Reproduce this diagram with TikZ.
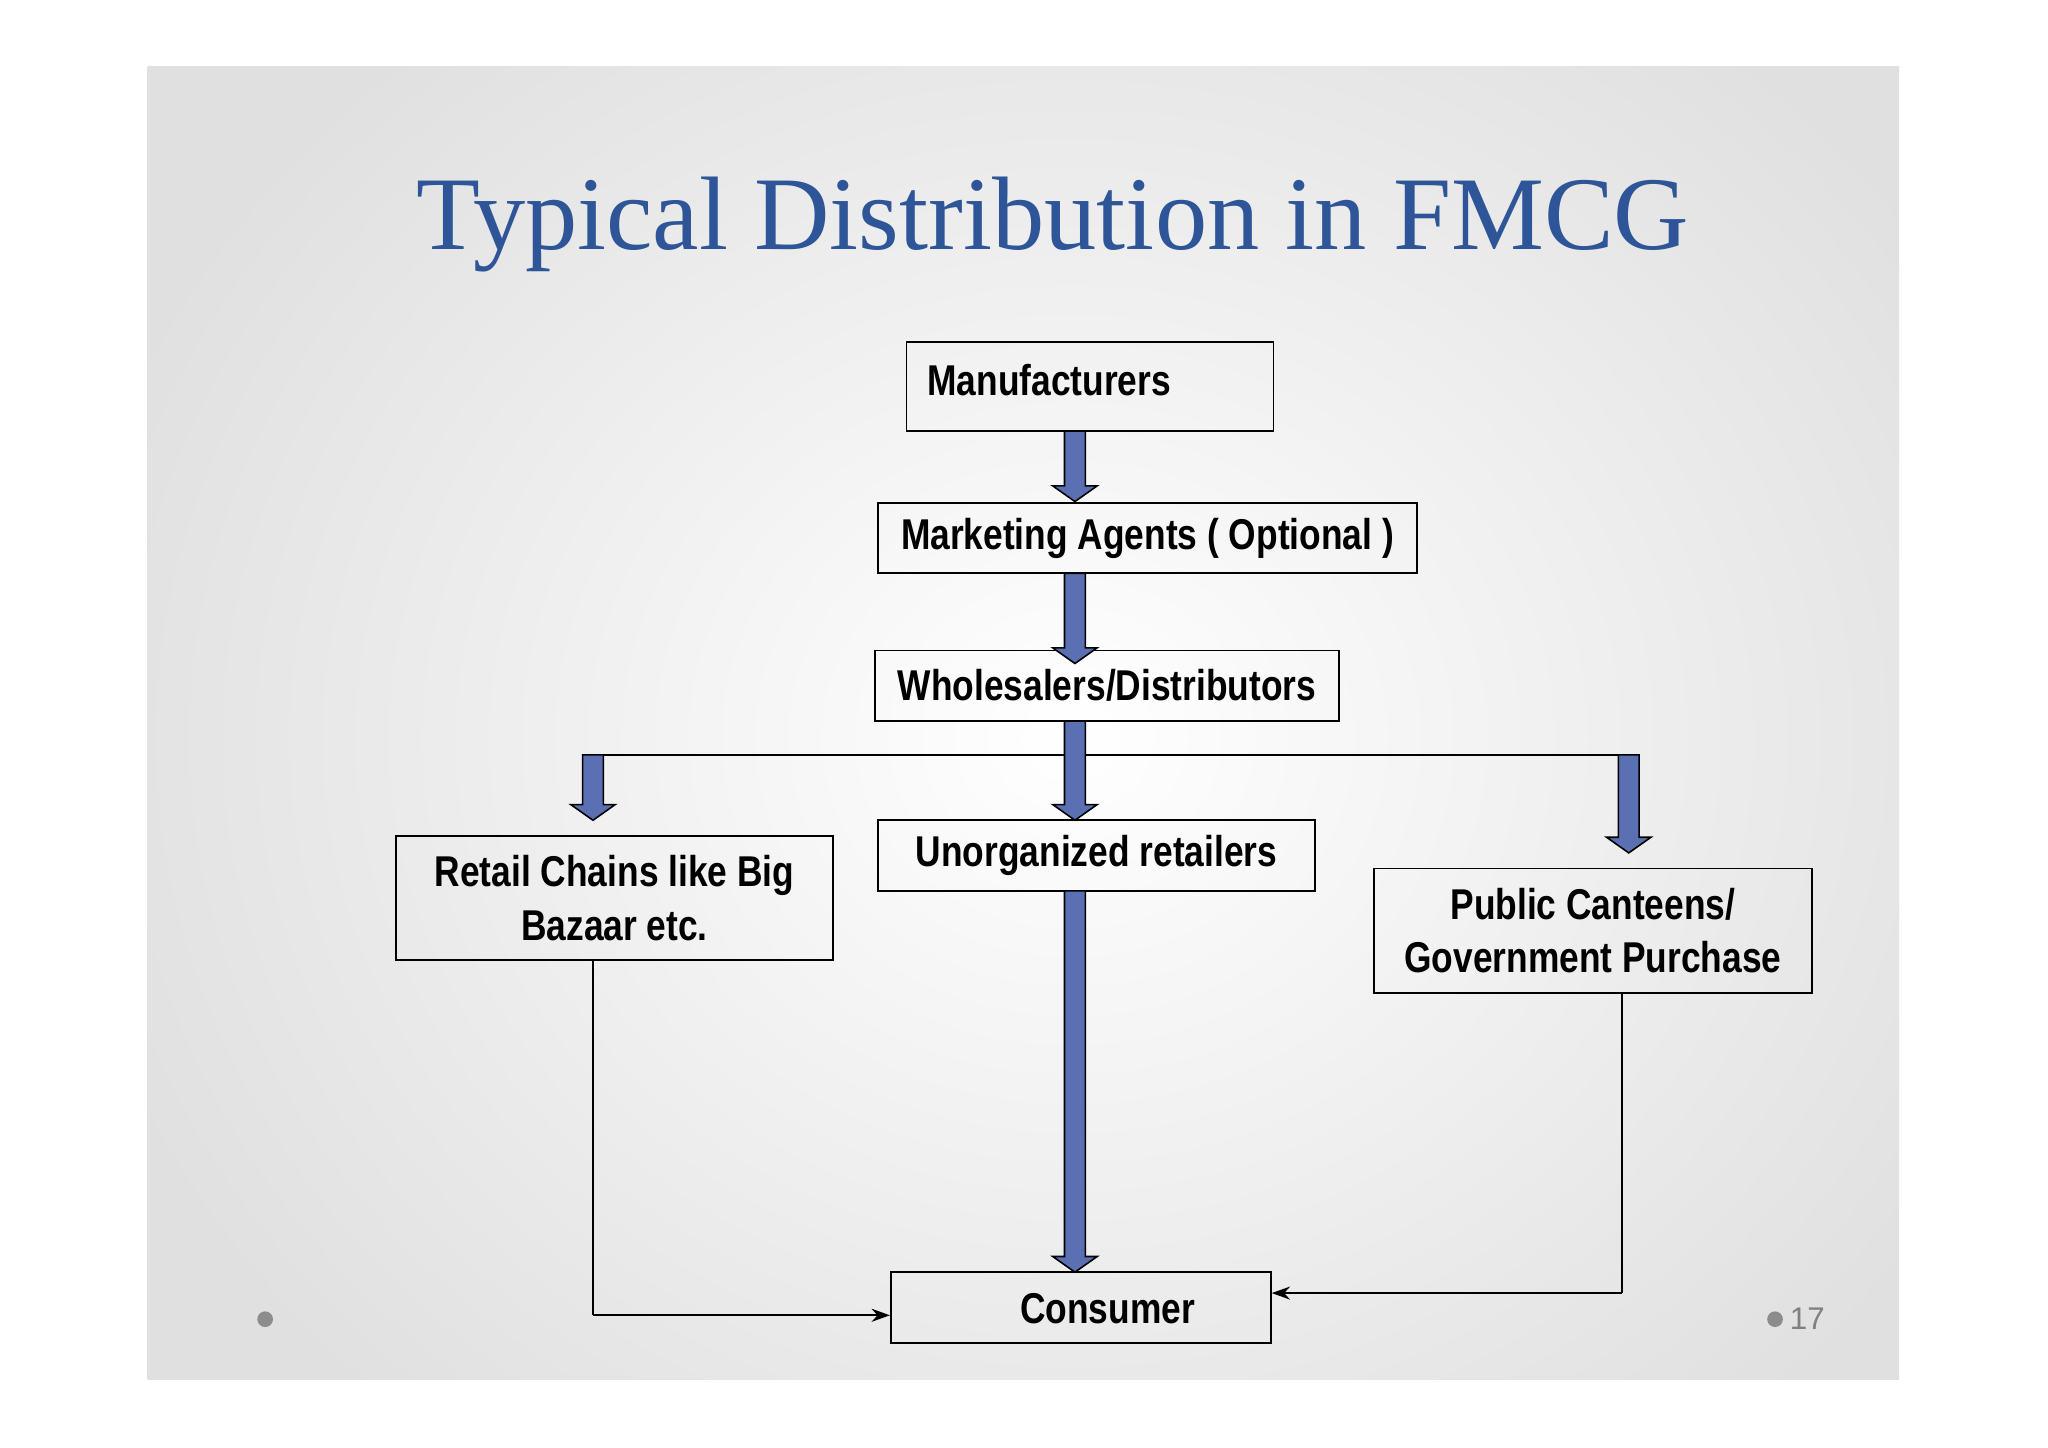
\documentclass[tikz,border=0pt]{standalone}
\usepackage{fontspec}
\setmainfont{Liberation Sans}
\newfontfamily\boxfont[FakeStretch=0.82]{Liberation Sans Bold}
\newfontfamily\titlefont{Liberation Serif}
\usetikzlibrary{arrows.meta}
\definecolor{titleblue}{HTML}{2E5597}
\definecolor{arrowblue}{HTML}{5B6FB3}
\newcommand\blkarrow[3]{%
 \filldraw[fill=arrowblue,draw=black,line width=0.6pt]
 (#1-8,#2) -- (#1+8,#2) -- (#1+8,#3-12) -- (#1+17,#3-12) -- (#1,#3) -- (#1-17,#3-12) -- (#1-8,#3-12) -- cycle;}
\begin{document}
\begin{tikzpicture}[x=0.5pt,y=-0.5pt,
 bx/.style={draw=black,line width=0.7pt,inner sep=0pt,font=\boxfont\fontsize{16.5}{20.5}\selectfont,align=center},
 thin/.style={line width=0.7pt,-{Stealth[length=7pt,width=5pt]}}]
\useasboundingbox (0,0) rectangle (1568,1108);
\fill[white] (0,0) rectangle (1568,1108);
\begin{scope}
\clip (113,51) rectangle (1454,1056);
\shade[inner color=white,outer color=black!12] (40,-120) rectangle (1600,1250);
\end{scope}
\node[font=\titlefont\fontsize{40}{46}\selectfont,text=titleblue] (title) at (806,172) {Typical Distribution in FMCG};
\node[bx,minimum width=140.5pt,minimum height=34pt] (man) at (834.5,296) {};
\node[font=\boxfont\fontsize{16.5}{20.5}\selectfont,anchor=west] (mant) at (703,291) {Manufacturers};
\node[bx,minimum width=206.5pt,minimum height=27pt] (mkt) at (878.5,412) {Marketing Agents ( Optional )};
\node[bx,minimum width=177.5pt,minimum height=27pt] (whl) at (847.5,525) {Wholesalers/Distributors};
\node[bx,minimum width=167.5pt,minimum height=47.5pt] (ret) at (470.5,687.5) {Retail Chains like Big\\Bazaar etc.};
\node[bx,minimum width=167.5pt,minimum height=27pt] (unr) at (839.5,655) {Unorganized retailers};
\node[bx,minimum width=167.5pt,minimum height=47.5pt] (pub) at (1219.5,712.5) {Public Canteens/\\Government Purchase};
\node[bx,minimum width=145.5pt,minimum height=27pt] (con) at (827.5,1001) {};
\node[font=\boxfont\fontsize{16.5}{20.5}\selectfont] (cont) at (848,1002) {Consumer};
\blkarrow{823}{330}{384}
\blkarrow{823}{439}{508}
\draw[line width=0.8pt] (454,578) -- (1247,578);
\blkarrow{823}{552}{628}
\blkarrow{454}{578}{628}
\blkarrow{1247}{578}{653}
\blkarrow{823}{682}{974}
\coordinate (rl) at (454,1007);
\coordinate (pl) at (1242,990);
\draw[line width=0.7pt] (454,735) -- (rl);
\draw[thin] (rl) -- (con.west |- rl);
\draw[line width=0.7pt] (1242,760) -- (pl);
\draw[thin] (pl) -- (con.east |- pl);
\fill[black!45] (203,1010) circle (6);
\fill[black!45] (1359,1010) circle (6);
\node[font=\fontsize{12}{14}\selectfont,text=black!50,anchor=west,inner sep=1pt] (pg) at (1368,1010) {17};
\end{tikzpicture}
\end{document}
